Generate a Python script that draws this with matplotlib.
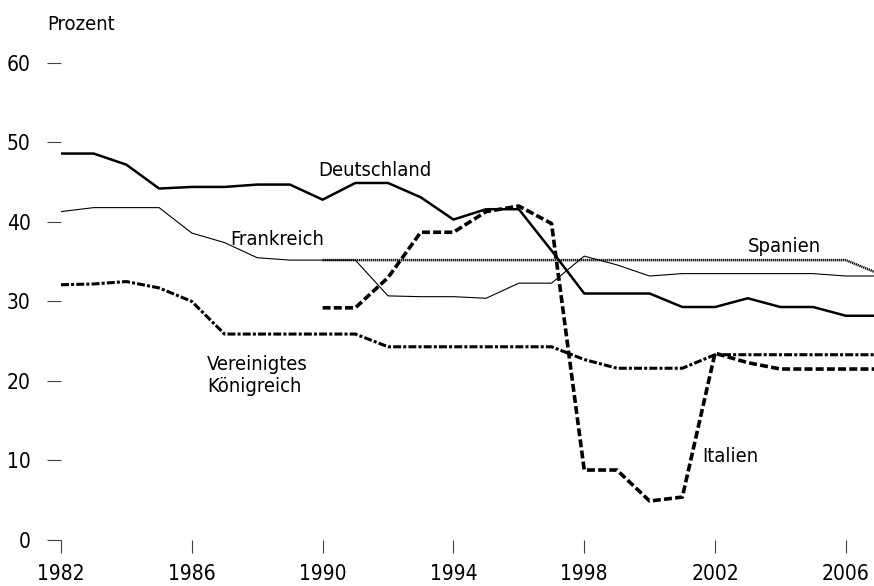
import matplotlib
matplotlib.use('Agg')
import matplotlib.pyplot as plt
from matplotlib import font_manager

years = list(range(1982, 2008))

deutschland = [48.6, 48.6, 47.2, 44.2, 44.4, 44.4, 44.7, 44.7, 42.8, 44.9, 44.9, 43.1, 40.3,
               41.6, 41.6, 36.4, 31.0, 31.0, 31.0, 29.3, 29.3, 30.4, 29.3, 29.3, 28.2, 28.2]
frankreich = [41.3, 41.8, 41.8, 41.8, 38.6, 37.4, 35.5, 35.2, 35.2, 35.2, 30.7, 30.6, 30.6,
              30.4, 32.3, 32.3, 35.7, 34.6, 33.2, 33.5, 33.5, 33.5, 33.5, 33.5, 33.2, 33.2]
spanien_years = list(range(1990, 2008))
spanien = [35.2] * 17 + [33.5]
italien_years = list(range(1990, 2008))
italien = [29.2, 29.2, 33.0, 38.7, 38.7, 41.3, 42.0, 39.8, 8.8, 8.8, 4.9, 5.4,
           23.5, 22.3, 21.5, 21.5, 21.5, 21.5]
uk = [32.1, 32.2, 32.5, 31.7, 30.0, 25.9, 25.9, 25.9, 25.9, 25.9, 24.3, 24.3, 24.3,
      24.3, 24.3, 24.3, 22.7, 21.6, 21.6, 21.6, 23.3, 23.3, 23.3, 23.3, 23.3, 23.3]

xticks = [1982, 1986, 1990, 1994, 1998, 2002, 2006]
yticks = [0, 10, 20, 30, 40, 50, 60]

names = {f.name for f in font_manager.fontManager.ttflist}
if 'Liberation Sans Narrow' in names:
    plt.rcParams['font.family'] = ['Liberation Sans Narrow', 'DejaVu Sans']
else:
    plt.rcParams['font.family'] = ['DejaVu Sans']
    plt.rcParams['font.stretch'] = 'condensed'

fig = plt.figure(figsize=(8.74, 5.86), dpi=100)
ax = fig.add_axes([0.0698, 0.0785, 0.9354, 0.8413])

ax.plot(years, frankreich, color='black', lw=0.8)
ax.plot(spanien_years, spanien, color='black', lw=1.8, dashes=(0.5, 0.3))
ax.plot(years, deutschland, color='black', lw=1.8)
ax.plot(years, uk, color='black', lw=2.2, dashes=(2.6, 0.7, 1.0, 0.7))
ax.plot(italien_years, italien, color='black', lw=2.6, dashes=(2.2, 0.9))

ax.set_xlim(1982, 2007)
ax.set_ylim(0, 62)
for s in ax.spines.values():
    s.set_visible(False)
ax.set_xticks(xticks)
ax.set_yticks(yticks)
ax.tick_params(axis='x', length=9, width=0.8, color='#444444', pad=8, labelsize=15)
ax.tick_params(axis='y', length=10, width=0.8, color='#444444', pad=12, labelsize=15)

fs = 14.5
ax.text(1989.86, 45.8, 'Deutschland', fontsize=fs, va='baseline')
ax.text(1987.17, 37.1, 'Frankreich', fontsize=fs, va='baseline')
ax.text(2003.0, 36.2, 'Spanien', fontsize=fs, va='baseline')
ax.text(1986.46, 21.4, 'Vereinigtes', fontsize=fs, va='baseline')
ax.text(1986.46, 18.6, 'Königreich', fontsize=fs, va='baseline')
ax.text(2001.6, 9.8, 'Italien', fontsize=fs, va='baseline')
fig.text(47 / 874, 1 - 30 / 586, 'Prozent', fontsize=fs, va='baseline')

fig.savefig('out.png', dpi=100)
